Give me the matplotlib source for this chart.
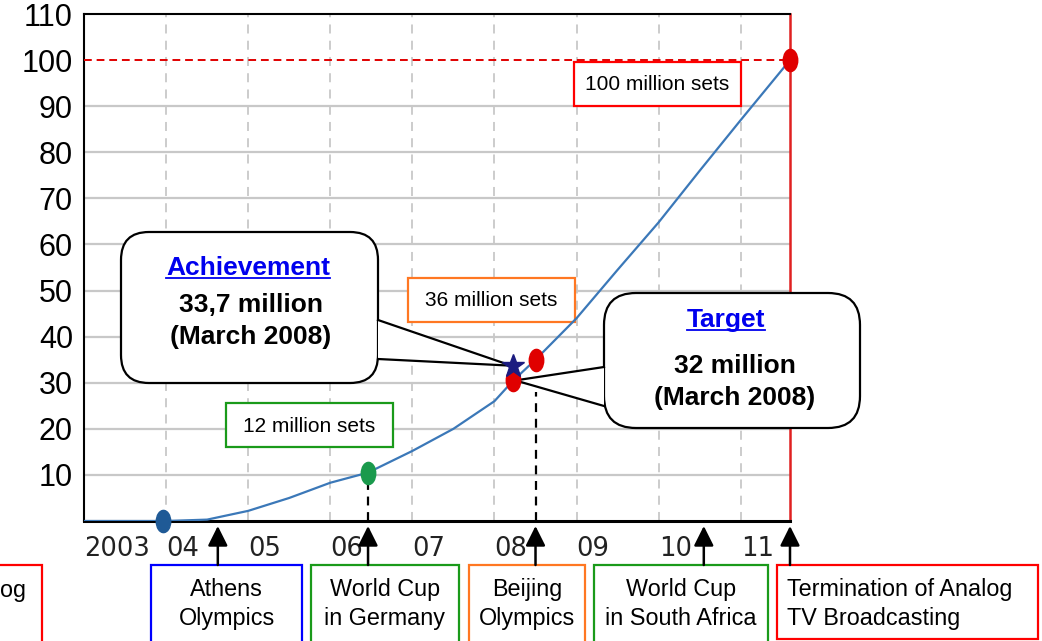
import matplotlib.pyplot as plt
from matplotlib.patches import FancyBboxPatch, Rectangle, Polygon
from matplotlib.path import Path
from matplotlib.transforms import Affine2D, blended_transform_factory
from matplotlib.lines import Line2D

plt.rcParams['font.family'] = ['Liberation Sans', 'DejaVu Sans']

# digital receivers shipped, million sets
curve_years = [2003.0, 2004.0, 2004.5, 2005.0, 2005.5, 2006.0, 2006.46, 2007.0, 2007.5,
               2008.0, 2008.23, 2008.5, 2009.0, 2009.5, 2010.0, 2010.5, 2011.0, 2011.6]
curve_values = [0, 0, 0.3, 2.2, 5.0, 8.3, 10.5, 15.2, 20.0,
                26.0, 30.5, 35.0, 44.0, 54.5, 64.8, 76.0, 87.0, 100.0]

milestone_years = [2003.96, 2006.46, 2008.23, 2008.5, 2011.6]
milestone_values = [0, 10.5, 30.5, 35.0, 100]
milestone_colors = ['#1f5a96', '#1a9a4c', '#e00000', '#e00000', '#e00000']

achievement_year = 2008.23
achievement_value = 33.7
goal_value = 100

event_years = [2004.63, 2006.46, 2008.5, 2010.55, 2011.6]
event_labels = ['Athens\nOlympics', 'World Cup\nin Germany', 'Beijing\nOlympics',
                'World Cup\nin South Africa', 'Termination of Analog\nTV Broadcasting']

tick_years = list(range(2003, 2012))
tick_labels = ['2003', '04', '05', '06', '07', '08', '09', '10', '11']
y_ticks = list(range(10, 111, 10))

W, H, DPI = 1042, 641, 100
fig = plt.figure(figsize=(W / DPI, H / DPI), dpi=DPI)
ax = fig.add_axes([84 / W, 1 - 521 / H, 706 / W, 507 / H])

# pixel coords measured from the top-left corner
px = Affine2D().scale(1 / DPI, -1 / DPI).translate(0, H / DPI) + fig.dpi_scale_trans

ax.set_xlim(2003, 2011.6)
ax.set_ylim(0, 110)

for v in y_ticks:
    if v < goal_value:
        ax.axhline(v, color='#c8c8c8', lw=1.6, zorder=1)
ax.set_xticks(tick_years, tick_labels)
ax.set_yticks(y_ticks)
ax.xaxis.grid(True, color='#c8c8c8', lw=1.3, ls=(0, (5, 4)), zorder=1)
ax.set_axisbelow(True)
ax.tick_params(axis='y', length=0, pad=8, labelsize=22)
ax.tick_params(axis='x', length=0, pad=11, labelsize=18.5, labelcolor='#222222',
               labelfontfamily='DejaVu Sans')
for lab in ax.get_xticklabels():
    lab.set_ha('left')

for side in ['left', 'top']:
    ax.spines[side].set_linewidth(1.5)
ax.spines['bottom'].set_linewidth(2.2)
ax.spines['right'].set_color('#e02020')
ax.spines['right'].set_linewidth(1.8)

ax.axhline(goal_value, color='#e00000', lw=1.4, ls=(0, (4, 2.5)), zorder=3)

ax.vlines([milestone_years[1], milestone_years[3]], 0,
          [milestone_values[1] - 2.5, milestone_values[3] - 7],
          colors='black', lw=1.6, linestyles=(0, (4, 3)), zorder=3)

ax.plot(curve_years, curve_values, color='#3b78b8', lw=1.6, zorder=4)

ell = Path.unit_circle().transformed(Affine2D().scale(0.65, 1.0))
for xv, yv, c in zip(milestone_years, milestone_values, milestone_colors):
    ax.plot([xv], [yv], marker=ell, markersize=16, color=c, ls='none',
            zorder=7, clip_on=False)
ax.plot([achievement_year], [achievement_value], marker='*', markersize=17,
        color='#1c1c80', ls='none', zorder=7)


def rect(x0, y0, x1, y1, color, lw=1.6, z=3):
    ax.add_patch(Rectangle((x0, y0), x1 - x0, y1 - y0, transform=px, fc='white',
                           ec=color, lw=lw, zorder=z, clip_on=False))


def to_px(xv, yv):
    return px.inverted().transform(ax.transData.transform((xv, yv)))


# value boxes inside the plot
rect(226, 403, 393, 447, '#1a9a1a')
ax.text(309, 426, '12 million sets', transform=px, ha='center', va='center', fontsize=15, zorder=4)
rect(408, 278, 575, 322, '#ff7722')
ax.text(491, 300, '36 million sets', transform=px, ha='center', va='center', fontsize=15, zorder=4)
rect(574, 62, 741, 106, '#ff0000')
ax.text(657, 85, '100 million sets', transform=px, ha='center', va='center', fontsize=15, zorder=4)


def bubble(x0, y0, x1, y1, r, a, b, tip):
    ax.add_patch(FancyBboxPatch((x0, y0), x1 - x0, y1 - y0,
                                boxstyle='round,pad=0,rounding_size=%d' % r,
                                transform=px, fc='white', ec='black', lw=1.6,
                                zorder=5, clip_on=False))
    ax.add_patch(Polygon([a, tip, b], closed=True, transform=px, fc='white', ec='none',
                         zorder=5.1, clip_on=False))
    for p in (a, b):
        ax.add_line(Line2D([p[0], tip[0]], [p[1], tip[1]], transform=px, color='black',
                           lw=1.6, zorder=5.2, clip_on=False))


star_px = to_px(achievement_year, achievement_value)
target_px = to_px(milestone_years[2], milestone_values[2])
bubble(121, 232, 378, 383, 28, (378, 320), (378, 359), (star_px[0] - 2, star_px[1]))
bubble(604, 293, 860, 428, 32, (604, 367), (604, 406), (target_px[0] + 2, target_px[1]))

head1 = ax.text(248, 268, 'Achievement', transform=px, ha='center', va='center',
                fontsize=19, fontweight='bold', color='#0000ee', zorder=6)
ax.text(251, 305, '33,7 million', transform=px, ha='center', va='center',
        fontsize=19, fontweight='bold', zorder=6)
ax.text(251, 337, '(March 2008)', transform=px, ha='center', va='center',
        fontsize=19, fontweight='bold', zorder=6)
head2 = ax.text(726, 320, 'Target', transform=px, ha='center', va='center',
                fontsize=19, fontweight='bold', color='#0000ee', zorder=6)
ax.text(735, 366, '32 million', transform=px, ha='center', va='center',
        fontsize=19, fontweight='bold', zorder=6)
ax.text(735, 398, '(March 2008)', transform=px, ha='center', va='center',
        fontsize=19, fontweight='bold', zorder=6)

fig.canvas.draw()
for t in (head1, head2):
    bb = t.get_window_extent()
    (lx0, ly), (lx1, _) = px.inverted().transform([[bb.x0, bb.y0], [bb.x1, bb.y0]])
    ax.add_line(Line2D([lx0, lx1], [ly - 2, ly - 2], transform=px, color='#0000ee',
                       lw=1.3, zorder=6, clip_on=False))

# event boxes under the axis
box_spans = [(151, 302), (311, 459), (469, 585), (594, 768), (777, 1038)]
box_colors = ['#0000ff', '#1a9a1a', '#ff7722', '#1a9a1a', '#ff0000']
rect(-20, 565, 42, 660, '#ff0000')
ax.text(27, 590, 'Analog', transform=px, ha='right', va='center', fontsize=16.8)
arrow_tr = blended_transform_factory(ax.transData, px)
for (bx0, bx1), c, lab, ev in zip(box_spans, box_colors, event_labels, event_years):
    bottom = 639 if bx1 > 1000 else 660
    rect(bx0, 565, bx1, bottom, c)
    if bx1 > 1000:
        ax.text(787, 604, lab, transform=px, ha='left', va='center', fontsize=16.8,
                linespacing=1.3)
    else:
        ax.text((bx0 + bx1) / 2, 604, lab, transform=px, ha='center', va='center',
                fontsize=16.8, multialignment='center', linespacing=1.3)
    ax.annotate('', xy=(ev, 526), xytext=(ev, 565), xycoords=arrow_tr, textcoords=arrow_tr,
                arrowprops=dict(arrowstyle='-|>,head_length=0.6,head_width=0.3',
                                color='black', lw=1.8, mutation_scale=20,
                                shrinkA=0, shrinkB=0),
                annotation_clip=False)

fig.savefig('out.png', dpi=DPI)
